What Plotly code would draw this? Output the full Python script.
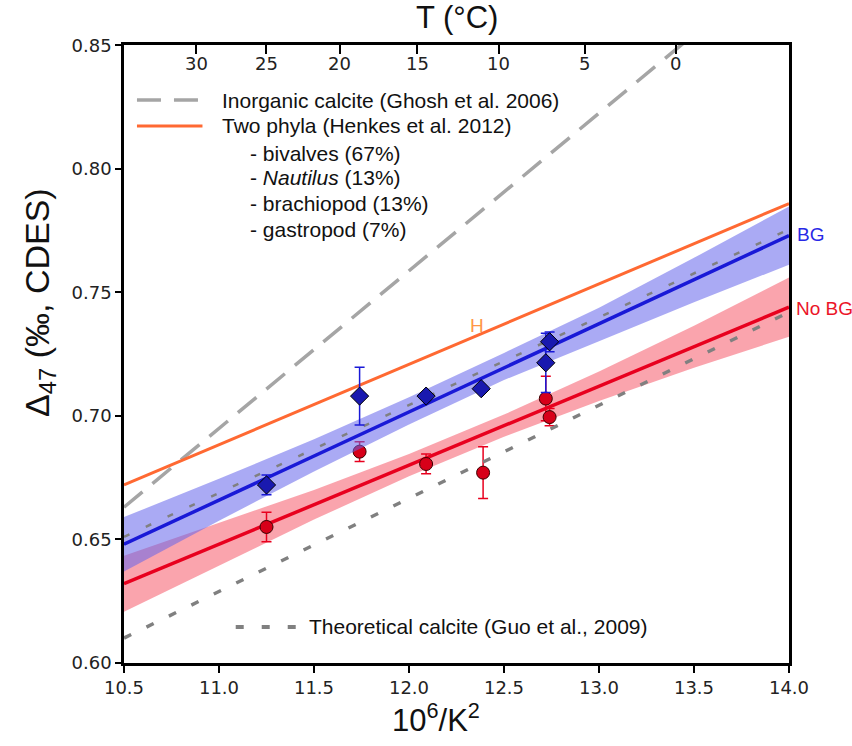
import plotly.graph_objects as go

# ---------------- data ----------------
x_ends = [10.5, 14.0]
ghosh_y = [0.663, 0.8864]          # inorganic calcite (Ghosh et al. 2006)
henkes_y = [0.672, 0.786]          # two phyla (Henkes et al. 2012)
guo_y = [0.610, 0.742]             # theoretical calcite (Guo et al. 2009)
aux_dot_y = [0.651, 0.7755]        # fine dotted line along BG fit
bg_fit_y = [0.648, 0.773]
nobg_fit_y = [0.632, 0.744]

band_x = [10.5, 11.0, 11.5, 12.0, 12.5, 13.0, 13.5, 14.0]
bg_upper = [0.659, 0.6745, 0.6905, 0.7075, 0.7255, 0.7438, 0.764, 0.7848]
bg_lower = [0.637, 0.6575, 0.6775, 0.6965, 0.7145, 0.7302, 0.746, 0.7612]
nobg_upper = [0.6433, 0.6565, 0.670, 0.6845, 0.7005, 0.718, 0.7365, 0.756]
nobg_lower = [0.6207, 0.6395, 0.658, 0.6755, 0.6915, 0.706, 0.7195, 0.732]

bg_x = [11.25, 11.74, 12.09, 12.38, 12.72, 12.74]
bg_y = [0.672, 0.708, 0.708, 0.711, 0.7215, 0.730]
bg_err = [0.004, 0.0117, 0.0, 0.0, 0.012, 0.004]

nobg_x = [11.25, 11.74, 12.09, 12.39, 12.72, 12.74]
nobg_y = [0.655, 0.6855, 0.6805, 0.677, 0.707, 0.6995]
nobg_err = [0.006, 0.004, 0.004, 0.0105, 0.009, 0.0035]

temp_ticks = [30, 25, 20, 15, 10, 5, 0]
x_ticks = [10.5, 11.0, 11.5, 12.0, 12.5, 13.0, 13.5, 14.0]
y_ticks = [0.60, 0.65, 0.70, 0.75, 0.80, 0.85]

# colours
BLUE = "rgb(25,25,215)"
RED = "rgb(232,0,30)"
ORANGE = "rgb(255,105,50)"
GRAY_L = "rgb(165,165,165)"
GRAY_D = "rgb(128,128,128)"

fig = go.Figure()

# bands
fig.add_trace(go.Scatter(x=band_x + band_x[::-1], y=nobg_upper + nobg_lower[::-1],
                         mode="lines", fill="toself", fillcolor="rgba(245,90,105,0.55)",
                         line=dict(width=0), hoverinfo="skip", showlegend=False))
fig.add_trace(go.Scatter(x=x_ends, y=nobg_fit_y, mode="lines",
                         line=dict(color=RED, width=3.5), showlegend=False))
fig.add_trace(go.Scatter(x=nobg_x, y=nobg_y, mode="markers",
                         error_y=dict(type="data", array=nobg_err, color=RED, thickness=1.5, width=5),
                         marker=dict(symbol="circle", size=13, color="rgb(215,0,25)",
                                     line=dict(color="rgb(60,0,0)", width=1)),
                         showlegend=False))
fig.add_trace(go.Scatter(x=band_x + band_x[::-1], y=bg_upper + bg_lower[::-1],
                         mode="lines", fill="toself", fillcolor="rgba(100,100,235,0.55)",
                         line=dict(width=0), hoverinfo="skip", showlegend=False))

# reference lines
fig.add_trace(go.Scatter(x=x_ends, y=ghosh_y, mode="lines",
                         line=dict(color=GRAY_L, width=3.5, dash="24px,13px"), showlegend=False))
fig.add_trace(go.Scatter(x=x_ends, y=henkes_y, mode="lines",
                         line=dict(color=ORANGE, width=3), showlegend=False))
fig.add_trace(go.Scatter(x=x_ends, y=guo_y, mode="lines",
                         line=dict(color=GRAY_D, width=3.5, dash="8px,17px"), showlegend=False))
fig.add_trace(go.Scatter(x=x_ends, y=bg_fit_y, mode="lines",
                         line=dict(color=BLUE, width=3.5), showlegend=False))
fig.add_trace(go.Scatter(x=x_ends, y=aux_dot_y, mode="lines",
                         line=dict(color=GRAY_D, width=2.5, dash="6px,18px"), showlegend=False))
fig.add_trace(go.Scatter(x=bg_x, y=bg_y, mode="markers",
                         error_y=dict(type="data", array=bg_err, color=BLUE, thickness=1.5, width=5),
                         marker=dict(symbol="diamond", size=14, color="rgb(25,25,175)",
                                     line=dict(color="black", width=1)),
                         showlegend=False))

# top temperature axis: ticks via xaxis2, labels as annotations
temp_pos = [1e6 / (t + 273.15) ** 2 for t in temp_ticks]
fig.add_trace(go.Scatter(x=temp_pos, y=[None] * len(temp_pos), xaxis="x2",
                         mode="markers", showlegend=False, hoverinfo="skip"))

TICKFONT = dict(family="DejaVu Sans", size=18, color="#222")
TITLEFONT = dict(family="Liberation Sans", size=31, color="#111")
fig.update_layout(
    width=852, height=746,
    margin=dict(l=124, r=63, t=45, b=83),
    paper_bgcolor="white", plot_bgcolor="white",
    xaxis=dict(range=[10.5, 14.0], tickvals=x_ticks, tickformat=".1f",
               ticks="outside", ticklen=7, tickwidth=1.5, tickcolor="black",
               showline=True, linecolor="black", linewidth=2.5, mirror=True,
               showgrid=False, zeroline=False, tickfont=TICKFONT),
    xaxis2=dict(range=[10.5, 14.0], overlaying="x", side="top",
                tickvals=temp_pos, showticklabels=False,
                ticks="inside", ticklen=9, tickwidth=1.5, tickcolor="black",
                showgrid=False, zeroline=False),
    yaxis=dict(range=[0.5999, 0.8502], tickvals=y_ticks, tickformat=".2f",
               ticks="outside", ticklen=6, tickwidth=1.5, tickcolor="black",
               showline=True, linecolor="black", linewidth=2.5, mirror=True,
               showgrid=False, zeroline=False, tickfont=TICKFONT),
    showlegend=False,
)

for t, xp in zip(temp_ticks, temp_pos):
    fig.add_annotation(text=str(t), x=xp, xref="x2", y=1, yref="paper", yshift=-18,
                       yanchor="middle", showarrow=False, font=TICKFONT)

# axis titles
fig.add_annotation(text="T (°C)", xref="paper", yref="paper", x=0.5, y=1.0437,
                   yanchor="middle", showarrow=False, font=TITLEFONT)
fig.add_annotation(text="10<sup>6</sup>/K<sup>2</sup>", xref="paper", yref="paper",
                   x=0.469, y=-0.089, yanchor="middle", showarrow=False, font=TITLEFONT)
fig.add_annotation(text="Δ<sub>47</sub> (‰, CDES)", xref="paper", yref="paper",
                   x=-0.128, y=0.584, textangle=-90, xanchor="center", yanchor="middle",
                   showarrow=False, font=dict(family="Liberation Sans", size=34, color="#111"))

LEGFONT = dict(family="Liberation Sans", size=21, color="#111")
# legend samples (paper coords)
fig.add_shape(type="line", xref="paper", yref="paper", x0=0.0195, x1=0.114, y0=0.911, y1=0.911,
              line=dict(color=GRAY_L, width=3.5, dash="24px,13px"))
fig.add_shape(type="line", xref="paper", yref="paper", x0=0.0195, x1=0.118, y0=0.869, y1=0.869,
              line=dict(color=ORANGE, width=3))
fig.add_shape(type="line", xref="paper", yref="paper", x0=0.168, x1=0.262, y0=0.0583, y1=0.0583,
              line=dict(color=GRAY_D, width=4, dash="8px,18px"))

legend_texts = [
    ("Inorganic calcite (Ghosh et al. 2006)", 0.1444, 0.911),
    ("Two phyla (Henkes et al. 2012)", 0.1444, 0.869),
    ("- bivalves (67%)", 0.1865, 0.825),
    ("- <i>Nautilus</i> (13%)", 0.1865, 0.785),
    ("- brachiopod (13%)", 0.1865, 0.743),
    ("- gastropod (7%)", 0.1865, 0.701),
    ("Theoretical calcite (Guo et al., 2009)", 0.275, 0.0583),
]
for txt, xp, yp in legend_texts:
    fig.add_annotation(text=txt, xref="paper", yref="paper", x=xp, y=yp,
                       xanchor="left", yanchor="middle", showarrow=False, font=LEGFONT)

fig.add_annotation(text="H", x=12.36, y=0.7365, showarrow=False,
                   font=dict(family="Liberation Sans", size=19, color="rgb(255,150,70)"))
fig.add_annotation(text="BG", x=14.0, y=0.7735, xanchor="left", xshift=6, showarrow=False,
                   font=dict(family="Liberation Sans", size=19, color="rgb(40,40,230)"))
fig.add_annotation(text="No BG", x=14.0, y=0.7435, xanchor="left", xshift=5, showarrow=False,
                   font=dict(family="Liberation Sans", size=19, color="rgb(235,20,40)"))

fig.write_html("out.html")
